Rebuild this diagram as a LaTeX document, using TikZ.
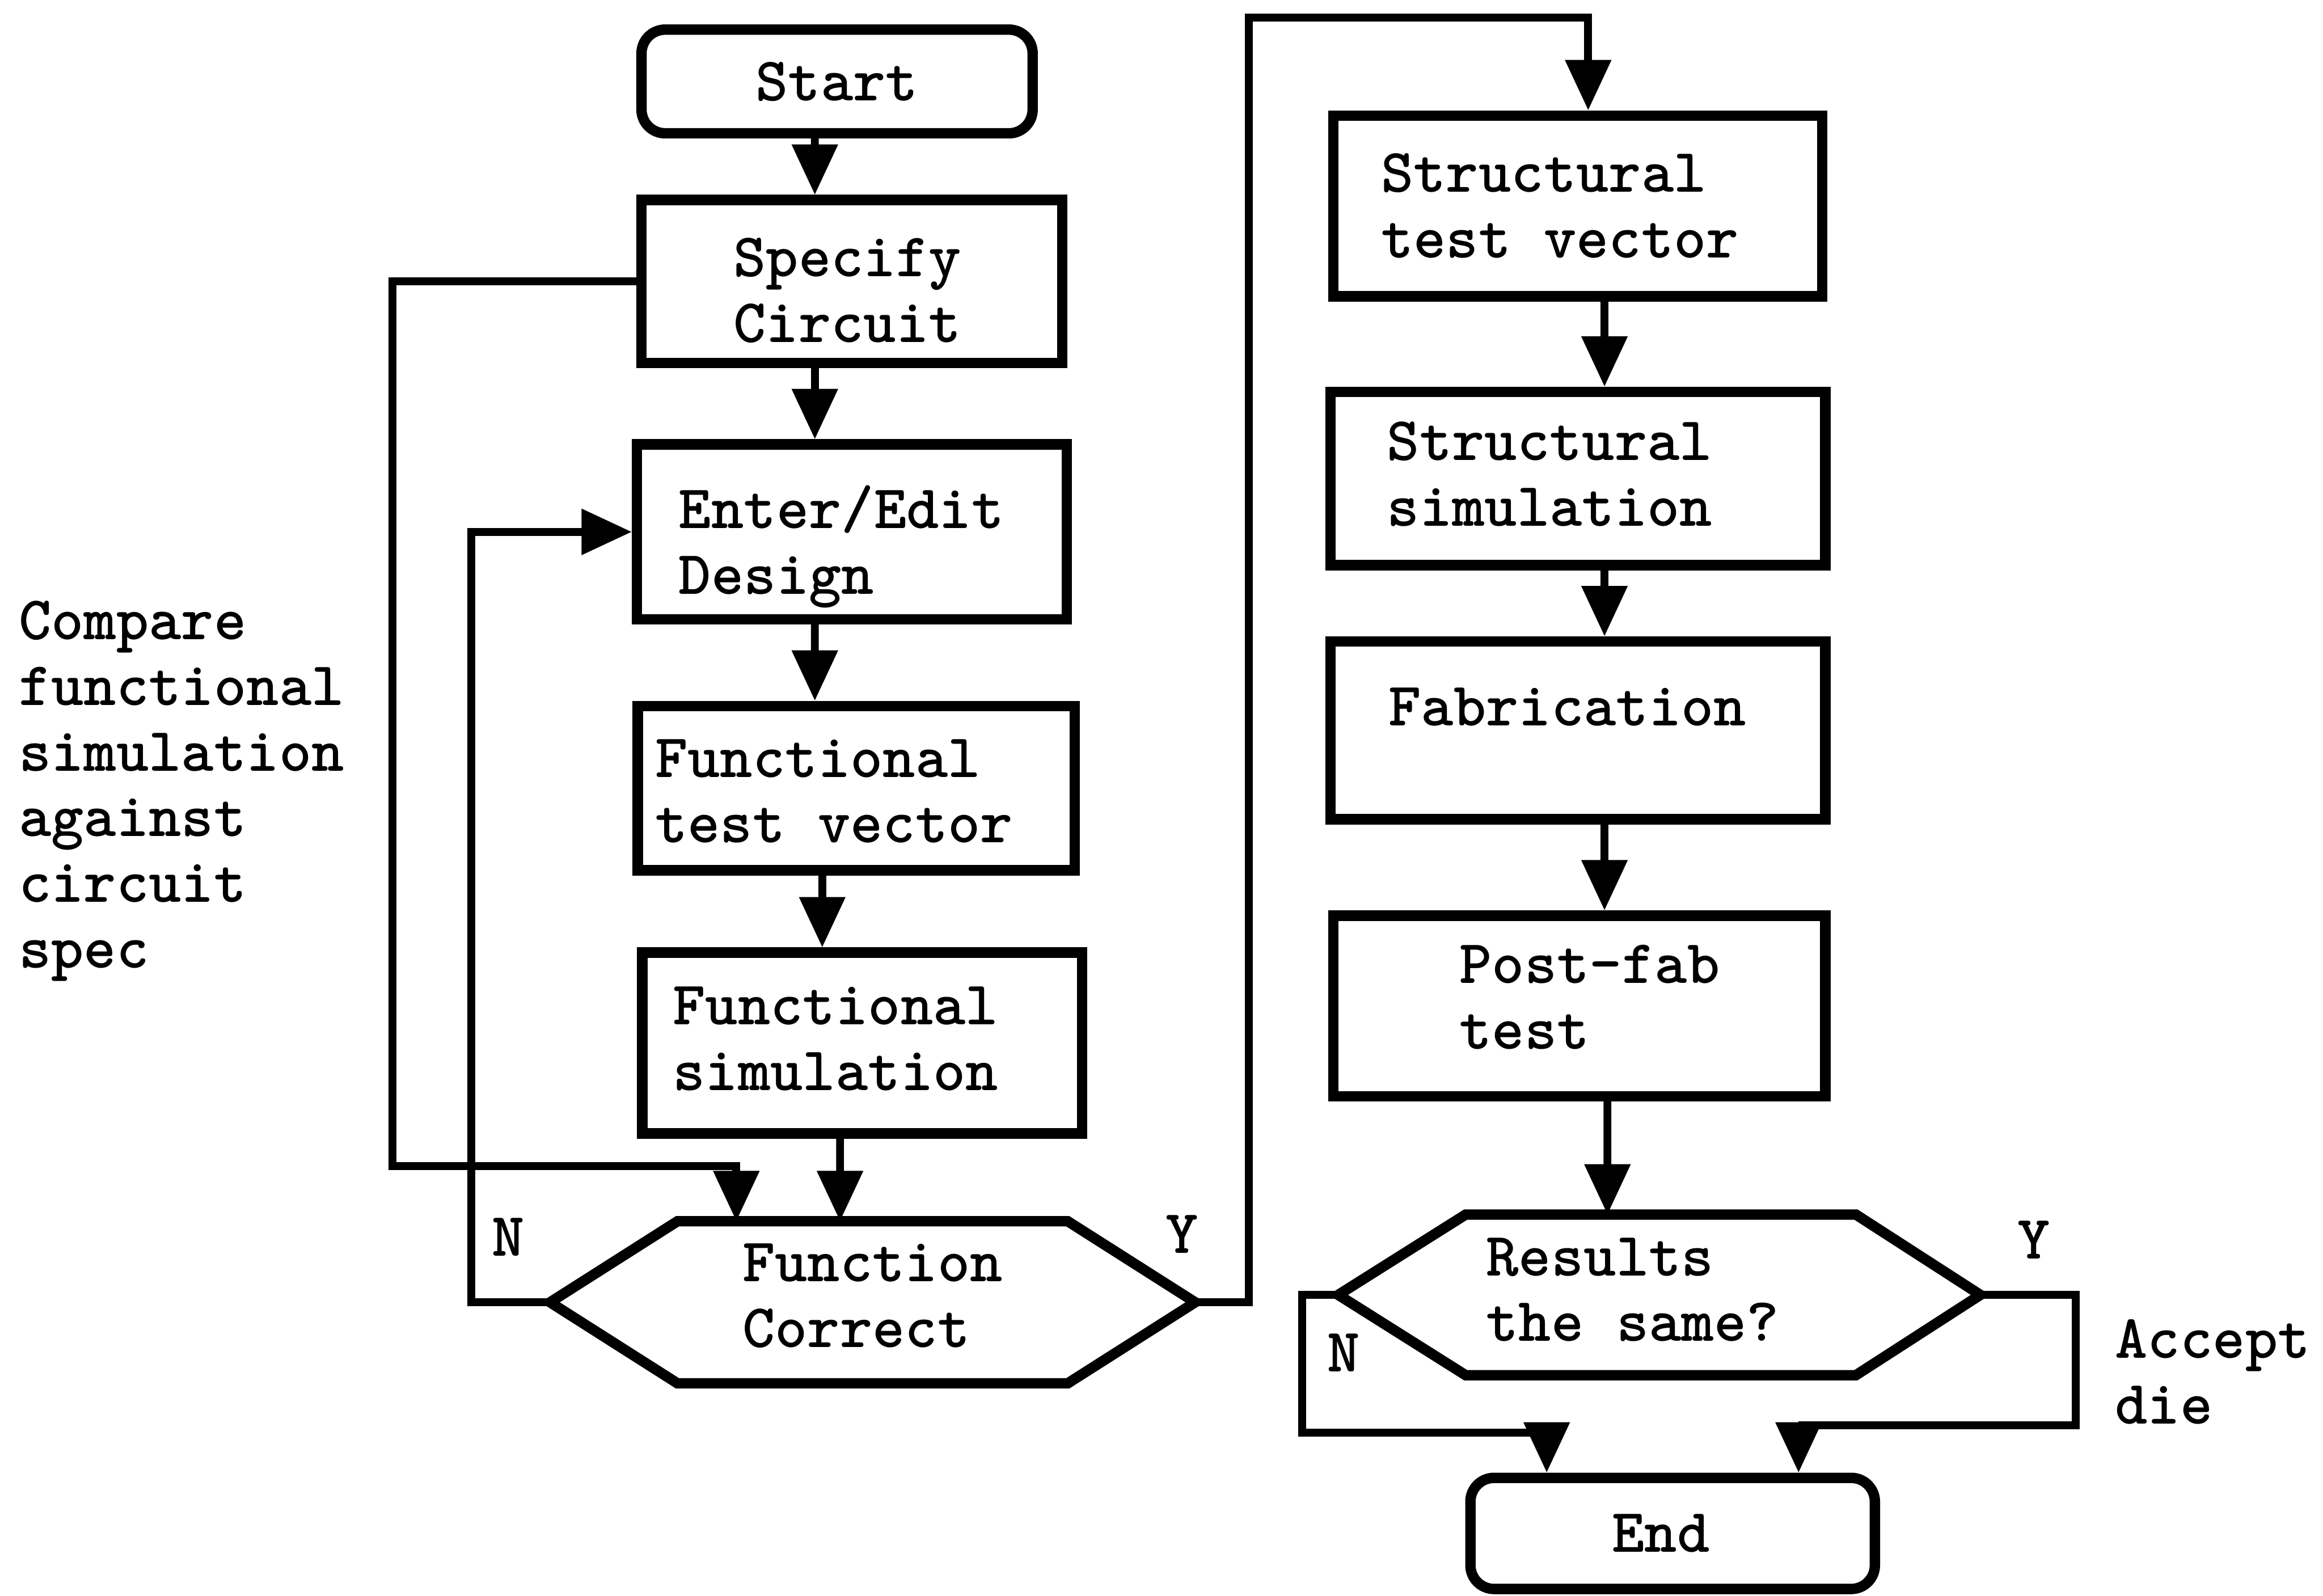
\documentclass[tikz,border=0pt]{standalone}
\usetikzlibrary{arrows.meta}

\begin{document}
\begin{tikzpicture}[
    font=\ttfamily\bfseries\fontsize{11.9}{12.6}\selectfont,
    box/.style={draw, line width=2pt, inner sep=0pt},
    term/.style={box, rounded corners=1.6mm},
    txt/.style={align=left, inner sep=0pt},
    flow/.style={line width=1.5pt, -{Triangle[length=3.4mm, width=3mm]}}
  ]
        \useasboundingbox (0,0) rectangle (15.68,10.77);

        % left column
        \node[term, minimum width=2.64cm, minimum height=0.70cm] (st) at (5.65,10.22) {Start};
        \node[box, minimum width=2.84cm, minimum height=1.10cm,
        label={[txt, align=center, xshift=-0.03cm, yshift=-0.06cm]center:Specify\\Circuit}] (sp) at (5.75,8.87) {};
        \node[box, minimum width=2.90cm, minimum height=1.18cm,
        label={[txt, xshift=-0.07cm, yshift=-0.10cm]center:Enter/Edit\\Design}] (ed) at (5.75,7.18) {};
        \node[box, minimum width=2.95cm, minimum height=1.11cm,
        label={[txt, xshift=-0.15cm, yshift=-0.02cm]center:Functional\\test vector}] (ftv) at (5.78,5.45) {};
        \node[box, minimum width=2.97cm, minimum height=1.22cm,
        label={[txt, xshift=-0.18cm, yshift=0.03cm]center:Functional\\simulation}] (fs) at (5.82,3.73) {};
        \node[txt, minimum width=4.34cm, minimum height=1.08cm] (fc) at (5.89,1.98) {};
        \node[txt, yshift=0.045cm] (fct) at (fc.center) {Function\\Correct};
        \draw[line width=2pt, line join=miter]
        (fc.west) -- ([xshift=0.86cm]fc.north west) -- ([xshift=-0.86cm]fc.north east)
        -- (fc.east) -- ([xshift=-0.86cm]fc.south east) -- ([xshift=0.86cm]fc.south west) -- cycle;

        % right column
        \node[box, minimum width=3.30cm, minimum height=1.22cm,
        label={[txt, xshift=-0.12cm]center:Structural\\test vector}] (stv) at (10.65,9.38) {};
        \node[box, minimum width=3.34cm, minimum height=1.17cm,
        label={[txt, xshift=-0.19cm, yshift=0.03cm]center:Structural\\simulation}] (ss) at (10.65,7.54) {};
        \node[box, minimum width=3.34cm, minimum height=1.20cm,
        label={[txt, xshift=-0.07cm, yshift=0.16cm]center:Fabrication}] (fab) at (10.65,5.84) {};
        \node[box, minimum width=3.32cm, minimum height=1.22cm,
        label={[txt, xshift=0.07cm, yshift=0.06cm]center:Post-fab\\test}] (pf) at (10.66,3.98) {};
        \node[txt, minimum width=4.32cm, minimum height=1.07cm] (rs) at (11.20,2.03) {};
        \node[txt, xshift=-0.18cm, yshift=0.035cm] (rst) at (rs.center) {Results\\the same?};
        \draw[line width=2pt, line join=miter]
        (rs.west) -- ([xshift=0.86cm]rs.north west) -- ([xshift=-0.84cm]rs.north east)
        -- (rs.east) -- ([xshift=-0.84cm]rs.south east) -- ([xshift=0.86cm]rs.south west) -- cycle;
        \node[term, minimum width=2.73cm, minimum height=0.75cm,
        label={[txt, xshift=-0.08cm]center:End}] (en) at (11.29,0.42) {};

        % straight arrows
        \draw[flow] ([xshift=-0.15cm]st.south) -- ([xshift=-0.25cm]sp.north);
        \draw[flow] ([xshift=-0.25cm]sp.south) -- ([xshift=-0.25cm]ed.north);
        \draw[flow] ([xshift=-0.25cm]ed.south) -- ([xshift=-0.28cm]ftv.north);
        \draw[flow] ([xshift=-0.23cm]ftv.south) -- ([xshift=-0.27cm]fs.north);
        \draw[flow] ([xshift=-0.15cm]fs.south) -- ([xshift=-0.22cm]fc.north);
        \draw[flow] ([xshift=0.18cm]stv.south) -- ([xshift=0.18cm]ss.north);
        \draw[flow] ([xshift=0.18cm]ss.south) -- ([xshift=0.18cm]fab.north);
        \draw[flow] ([xshift=0.18cm]fab.south) -- ([xshift=0.17cm]pf.north);
        \draw[flow] ([xshift=0.19cm]pf.south) -- ([xshift=-0.35cm]rs.north);

        % loops
        \coordinate (c1) at (2.65,2.90);
        \coordinate (c2) at (3.18,7.18);
        \coordinate (c3) at (8.43,10.65);
        \coordinate (c4) at (8.79,1.10);
        \coordinate (c5) at (14.01,1.15);
        \draw[flow] (sp.west) -| (c1) -| ([xshift=-0.92cm]fc.north);
        \draw[flow] (fc.west) -| (c2) -- (ed.west);
        \draw[flow] (fc.east) -| (c3) -| ([xshift=0.07cm]stv.north);
        \draw[flow] (rs.west) -| (c4) -| ([xshift=-0.85cm]en.north);
        \draw[flow] (rs.east) -| (c5) -| ([xshift=0.85cm]en.north);

        % labels
        \node (n1) at (3.43,2.42) {N};
        \node (y1) at (7.98,2.44) {Y};
        \node (n2) at (9.07,1.64) {N};
        \node (y2) at (13.73,2.40) {Y};
        \node[txt, anchor=west] (acc) at (14.27,1.51) {Accept\\die};
        \node[txt, anchor=west] (cmp) at (0.12,5.43)
        {Compare\\functional\\simulation\\against\\circuit\\spec};
\end{tikzpicture}
\end{document}
